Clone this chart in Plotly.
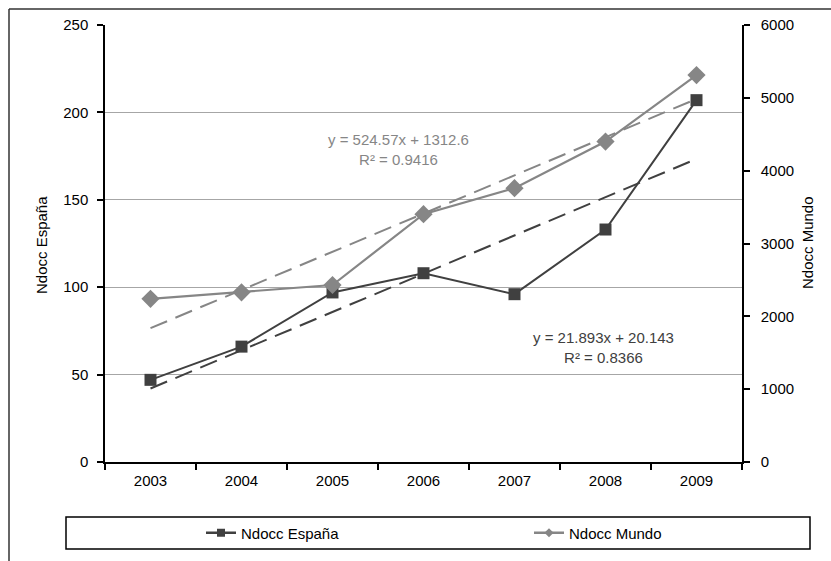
import plotly.graph_objects as go

years = ["2003", "2004", "2005", "2006", "2007", "2008", "2009"]
espana = [47, 66, 97, 108, 96, 133, 207]
mundo = [2240, 2330, 2430, 3403, 3760, 4400, 5313]
esp_slope, esp_icpt, esp_r2 = 21.893, 20.143, 0.8366
mun_slope, mun_icpt, mun_r2 = 524.57, 1312.6, 0.9416

esp_trend = [esp_slope * (i + 1) + esp_icpt for i in range(len(years))]
mun_trend = [mun_slope * (i + 1) + mun_icpt for i in range(len(years))]

DARK = "#404040"
GRAY = "#868686"
FONT = "Liberation Sans, Arial, sans-serif"
FS = 15

fig = go.Figure()
fig.add_trace(go.Scatter(x=years, y=esp_trend, mode="lines", yaxis="y",
                         line=dict(color=DARK, width=2, dash="18px,9px"), showlegend=False, hoverinfo="skip"))
fig.add_trace(go.Scatter(x=years, y=mun_trend, mode="lines", yaxis="y2",
                         line=dict(color=GRAY, width=2, dash="18px,9px"), showlegend=False, hoverinfo="skip"))
fig.add_trace(go.Scatter(x=years, y=espana, mode="lines+markers", name="Ndocc España", yaxis="y",
                         line=dict(color=DARK, width=2), showlegend=False,
                         marker=dict(symbol="square", size=12, color=DARK)))
fig.add_trace(go.Scatter(x=years, y=mundo, mode="lines+markers", name="Ndocc Mundo", yaxis="y2",
                         line=dict(color=GRAY, width=2.2), showlegend=False,
                         marker=dict(symbol="diamond", size=14, color=GRAY)))
# legend entries (smaller legend markers, like the original)
fig.add_trace(go.Scatter(x=[None], y=[None], mode="lines+markers", name="Ndocc España", yaxis="y",
                         line=dict(color=DARK, width=2.5), legend="legend",
                         marker=dict(symbol="square", size=8, color=DARK)))
fig.add_trace(go.Scatter(x=[None], y=[None], mode="lines+markers", name="Ndocc Mundo", yaxis="y2",
                         line=dict(color=GRAY, width=2.5), legend="legend2",
                         marker=dict(symbol="diamond", size=7, color=GRAY)))

L, R, T, B = 105, 742, 25, 462
W, H = R - L, B - T
px = lambda v: (v - L) / W
py = lambda v: (B - v) / H

leg_common = dict(orientation="h", xanchor="left", yanchor="middle", y=py(533),
                  bgcolor="rgba(0,0,0,0)", borderwidth=0, font=dict(size=FS))

fig.update_layout(
    width=831, height=561,
    margin=dict(l=L, r=831 - R, t=T, b=561 - B, autoexpand=False),
    paper_bgcolor="white", plot_bgcolor="white",
    font=dict(family=FONT, size=FS, color="black"),
    xaxis=dict(type="category", range=[-0.5, 6.5], tickson="boundaries",
               ticks="outside", ticklen=6, tickcolor="black", tickwidth=1.5,
               showline=True, linecolor="black", linewidth=1.5, showgrid=False,
               zeroline=False, tickfont=dict(size=FS), ticklabelstandoff=4),
    yaxis=dict(range=[0, 250], tickvals=[0, 50, 100, 150, 200, 250],
               ticks="outside", ticklen=6, tickcolor="black", tickwidth=1.5,
               showline=True, linecolor="black", linewidth=1.5,
               showgrid=True, gridcolor="#a6a6a6", gridwidth=1.2, zeroline=False,
               tickfont=dict(size=FS), ticklabelstandoff=6),
    yaxis2=dict(range=[0, 6000], tickvals=[0, 1000, 2000, 3000, 4000, 5000, 6000],
                overlaying="y", side="right", anchor="x",
                ticks="outside", ticklen=6, tickcolor="black", tickwidth=1.5,
                showline=True, linecolor="black", linewidth=1.5,
                showgrid=False, zeroline=False, tickfont=dict(size=FS), ticklabelstandoff=8),
    legend=dict(x=px(201), **leg_common),
    legend2=dict(x=px(529), **leg_common),
    showlegend=True,
)

shapes = [
    dict(type="line", xref="paper", yref="paper", x0=px(9), x1=px(9), y0=py(9), y1=py(575),
         line=dict(color="#333333", width=1.5)),
    dict(type="line", xref="paper", yref="paper", x0=px(9), x1=px(840), y0=py(9), y1=py(9),
         line=dict(color="#333333", width=1.5)),
    dict(type="rect", xref="paper", yref="paper", x0=px(66), x1=px(810), y0=py(517), y1=py(549),
         line=dict(color="black", width=1.5), fillcolor="rgba(0,0,0,0)"),
]
fig.update_layout(shapes=shapes)

annots = [
    dict(text=f"y = {mun_slope}x + {mun_icpt}<br>R² = {mun_r2}", x=px(398), y=py(149),
         font=dict(color=GRAY, size=FS)),
    dict(text=f"y = {esp_slope}x + {esp_icpt}<br>R² = {esp_r2}", x=px(603), y=py(347),
         font=dict(color=DARK, size=FS)),
    dict(text="Ndocc España", x=px(42), y=py(245), textangle=-90, font=dict(size=FS)),
    dict(text="Ndocc Mundo", x=px(808), y=py(243), textangle=-90, font=dict(size=FS)),
]
for a in annots:
    fig.add_annotation(xref="paper", yref="paper", showarrow=False, xanchor="center",
                       yanchor="middle", **a)

fig.write_html("out.html", config={"displayModeBar": False},
               post_script="document.body.style.margin='0';document.body.style.overflow='hidden';")
